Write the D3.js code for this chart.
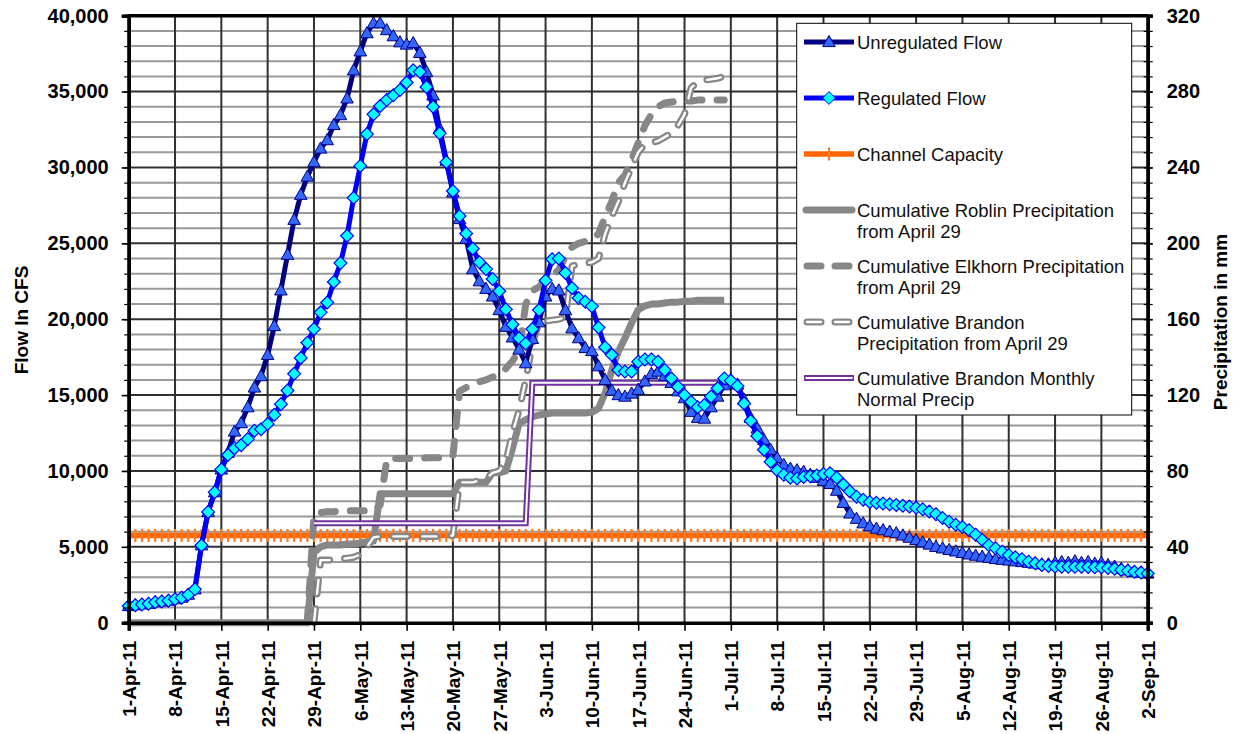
<!DOCTYPE html>
<html>
<head>
<meta charset="utf-8">
<script src="https://cdn.jsdelivr.net/npm/d3@7"></script>
<style>
  html, body { margin: 0; padding: 0; background: #ffffff; }
  svg { display: block; font-family: "Liberation Sans", Arial, sans-serif; }
</style>
</head>
<body>
<svg id="chart" width="1238" height="734"></svg>
<script>
// ---------------- data ----------------
const firstDay = "2011-04-01";
const lastDay  = "2011-09-02";

// daily flows (cfs), 1-Apr-11 .. 2-Sep-11
const unregulatedFlow = [
  1100,1150,1200,1250,1350,1400,1450,1550,1650,1850,
  2200,5100,7300,8600,10100,11200,12600,13150,14200,15500,
  16250,17650,19550,21900,24250,26550,28200,29400,30350,31250,
  31800,32800,33450,34550,36400,37650,38850,39500,39500,39050,
  38650,38250,38100,38200,37550,36300,34750,32550,30450,28350,
  26600,25300,23300,22500,22000,21500,20600,19500,18800,18000,
  17100,18700,19800,21500,22000,21900,20600,19400,18750,18100,
  17900,16900,16000,15300,15000,14900,15100,15350,15900,16400,
  16550,16250,15800,15250,14800,13900,13500,13450,14200,14900,
  15650,16000,15700,14700,13500,12800,12050,11400,10850,10400,
  10150,10050,9950,9750,9550,9350,9150,8700,7900,7200,
  6850,6550,6350,6200,6100,6000,5900,5750,5600,5450,
  5300,5150,5000,4900,4800,4700,4600,4500,4420,4350,
  4280,4200,4150,4100,4050,4000,3950,3900,3850,3850,
  3950,4000,3950,4050,3950,4000,3900,3950,3800,3700,
  3550,3450,3350,3300,3250
];
const regulatedFlow = [
  1100,1150,1200,1250,1350,1400,1450,1550,1650,1850,
  2200,5100,7300,8600,10100,11050,11500,11700,12100,12650,
  12750,13100,13700,14400,15300,16400,17450,18450,19350,20450,
  21100,22450,23700,25500,28000,30100,32200,33500,34050,34450,
  34750,35100,35600,36400,36300,35300,34000,32250,30350,28450,
  26800,25650,24650,23750,23300,22650,21850,20650,19650,18750,
  18400,19350,20600,22550,23950,24000,23050,22050,21400,21150,
  20850,19450,18150,17650,16650,16550,16550,17200,17350,17350,
  17200,16650,16100,15550,15000,14550,14200,14350,14900,15450,
  16100,15950,15600,14450,13300,12300,11400,10600,10050,9750,
  9550,9500,9600,9650,9700,9800,9850,9550,9100,8650,
  8300,8100,7950,7900,7850,7800,7750,7700,7650,7580,
  7470,7320,7150,6900,6650,6450,6300,6100,5800,5450,
  5100,4900,4680,4460,4310,4180,4020,3910,3800,3740,
  3700,3690,3690,3680,3680,3670,3660,3650,3600,3550,
  3480,3420,3350,3300,3250
];
const channelCapacity = 5750;   // cfs, constant over the period

// cumulative precipitation (mm)
const roblinStart = "2011-04-01";
const roblinPrecip = [
  0,0,0,0,0,0,0,0,0,0,
  0,0,0,0,0,0,0,0,0,0,
  0,0,0,0,0,0,0,0,
  37,40,41,41,41,41.5,41.5,42,42.5,43,
  68,68,68,68,68,68,68,68,68,68,
  68,68,74,74,74,74,74,79,79,80,
  92,105,107,108.5,109.5,110,110.5,110.5,110.5,110.5,
  110.5,110.5,111,113,121,133,143,150,158,165,
  167,168,168,168.5,169,169,169.5,169.5,170,170,
  170,170,170
];
const elkhornStart = "2011-04-28";
const elkhornPrecip = [
  0,57,58,58.5,58.5,59,59,59,59,59,
  59,62,86,86.5,86.5,86.5,86.5,86.5,87,87,
  87,87.5,88,122,124,126,127,128,129.5,131,
  134,138,143,168,175,177,181,183,186,193,
  198,200,201,202,205,214,222,232,236,244,
  253,262,268,272,274,274.5,275,275,275,275.5,
  275.5,275.5,275.5,275.5
];
const brandonStart = "2011-04-29";
const brandonPrecip = [
  0,33,33,33,33.5,34,34.5,36,40,45,
  45.5,45.5,45.5,45.5,45.5,45.5,45.5,45.5,45.5,45.5,
  45.5,46,74,74,74,75,76,79,80,85,
  100,112,128,147,158,159,159.5,160,161,188,
  189,189.5,190,192,205,214,222,232,240,248,
  252,253,254,256,258,262,268,282,285,286,
  286.5,287,288
];
const brandonNormalStart = "2011-04-29";
const brandonNormalPrecip = [
  52.4,52.4,52.4,52.4,52.4,52.4,52.4,52.4,52.4,52.4,
  52.4,52.4,52.4,52.4,52.4,52.4,52.4,52.4,52.4,52.4,
  52.4,52.4,52.4,52.4,52.4,52.4,52.4,52.4,52.4,52.4,
  52.4,52.4,52.4,
  126.5,126.5,126.5,126.5,126.5,126.5,126.5,126.5,126.5,126.5,
  126.5,126.5,126.5,126.5,126.5,126.5,126.5,126.5,126.5,126.5,
  126.5,126.5,126.5,126.5,126.5,126.5,126.5,126.5,126.5,126.5
];

const flowTicks   = [0, 5000, 10000, 15000, 20000, 25000, 30000, 35000, 40000];
const precipTicks = [0, 40, 80, 120, 160, 200, 240, 280, 320];
const flowMinorStep = 1000;

const legendEntries = [
  { key: "unreg",   lines: ["Unregulated Flow"] },
  { key: "reg",     lines: ["Regulated Flow"] },
  { key: "cap",     lines: ["Channel Capacity"] },
  { key: "roblin",  lines: ["Cumulative Roblin Precipitation", "from April 29"] },
  { key: "elkhorn", lines: ["Cumulative Elkhorn Precipitation", "from April 29"] },
  { key: "brandon", lines: ["Cumulative Brandon", "Precipitation from April 29"] },
  { key: "normal",  lines: ["Cumulative Brandon Monthly", "Normal Precip"] }
];

// ---------------- layout & styles ----------------
const plot = { left: 128.7, right: 1147.7, top: 15.7, bottom: 622.7 };
const C = {
  unregLine: "#000080", unregFill: "#3366FF",
  regLine: "#0000FF", regFill: "#00FFFF",
  cap: "#FF6600", capMark: "#FF7A22",
  precip: "#878787", normal: "#7030A0",
  gridMajor: "#303030", gridMinor: "#9A9A9A"
};
const precipWidth = 7;
const dash = "14 15";

const parseDay = d3.timeParse("%Y-%m-%d");
const days = d3.timeDay.range(parseDay(firstDay), d3.timeDay.offset(parseDay(lastDay), 1));
const toPoints = (startStr, values) => {
  const s = parseDay(startStr);
  return values.map((v, i) => ({ date: d3.timeDay.offset(s, i), value: v }));
};

const x = d3.scaleTime().domain([parseDay(firstDay), parseDay(lastDay)]).range([plot.left, plot.right]);
const yFlow = d3.scaleLinear().domain([0, 40000]).range([plot.bottom, plot.top]);
const yPrecip = d3.scaleLinear().domain([0, 320]).range([plot.bottom, plot.top]);

const weekTicks = d3.timeDay.range(x.domain()[0], d3.timeDay.offset(x.domain()[1], 1), 7);
const minorFlow = d3.range(0, 40000 + 1, flowMinorStep);

const svg = d3.select("#chart");

// ---------------- grid ----------------
const grid = svg.append("g");
grid.selectAll("line.hmin")
  .data(minorFlow.filter(v => v % 5000 !== 0))
  .join("line")
  .attr("x1", plot.left).attr("x2", plot.right)
  .attr("y1", d => yFlow(d)).attr("y2", d => yFlow(d))
  .attr("stroke", C.gridMinor).attr("stroke-width", 2);
grid.selectAll("line.hmaj")
  .data(flowTicks.filter(v => v > 0 && v < 40000))
  .join("line")
  .attr("x1", plot.left).attr("x2", plot.right)
  .attr("y1", d => yFlow(d)).attr("y2", d => yFlow(d))
  .attr("stroke", C.gridMajor).attr("stroke-width", 2);
grid.selectAll("line.v")
  .data(weekTicks.slice(1, -1))
  .join("line")
  .attr("x1", d => x(d)).attr("x2", d => x(d))
  .attr("y1", plot.top).attr("y2", plot.bottom)
  .attr("stroke", C.gridMajor).attr("stroke-width", 2);

// ---------------- series ----------------
const marks = svg.append("g");

// channel capacity
const capPts = days.map(d => ({ date: d, value: channelCapacity }));
marks.append("path")
  .datum(capPts)
  .attr("fill", "none").attr("stroke", C.cap).attr("stroke-width", 5.5)
  .attr("d", d3.line().x(d => x(d.date)).y(d => yFlow(d.value)));
marks.append("g").selectAll("line")
  .data(capPts).join("line")
  .attr("x1", d => x(d.date)).attr("x2", d => x(d.date))
  .attr("y1", d => yFlow(d.value) - 6.5).attr("y2", d => yFlow(d.value) + 6.5)
  .attr("stroke", C.capMark).attr("stroke-width", 2.2);

// precipitation lines
const precipLine = d3.line().x(d => x(d.date)).y(d => yPrecip(d.value));
const roblinPts = toPoints(roblinStart, roblinPrecip);
const elkhornPts = toPoints(elkhornStart, elkhornPrecip);
const brandonPts = toPoints(brandonStart, brandonPrecip);
const normalPts = toPoints(brandonNormalStart, brandonNormalPrecip);

marks.append("path").datum(roblinPts)
  .attr("fill", "none").attr("stroke", C.precip).attr("stroke-width", precipWidth)
  .attr("stroke-linejoin", "round").attr("d", precipLine);
marks.append("path").datum(elkhornPts)
  .attr("fill", "none").attr("stroke", C.precip).attr("stroke-width", precipWidth)
  .attr("stroke-dasharray", dash).attr("stroke-linecap", "round")
  .attr("stroke-linejoin", "round").attr("d", precipLine);
marks.append("path").datum(brandonPts)
  .attr("fill", "none").attr("stroke", C.precip).attr("stroke-width", precipWidth)
  .attr("stroke-dasharray", dash).attr("stroke-linecap", "round")
  .attr("stroke-linejoin", "round").attr("d", precipLine);
marks.append("path").datum(brandonPts)
  .attr("fill", "none").attr("stroke", "#ffffff").attr("stroke-width", 2.4)
  .attr("stroke-dasharray", dash).attr("stroke-linecap", "round")
  .attr("stroke-linejoin", "round").attr("d", precipLine);
marks.append("path").datum(normalPts)
  .attr("fill", "none").attr("stroke", C.normal).attr("stroke-width", 6)
  .attr("d", precipLine);
marks.append("path").datum(normalPts)
  .attr("fill", "none").attr("stroke", "#ffffff").attr("stroke-width", 2)
  .attr("d", precipLine);

// flows
const triPath = "M0,-6.6L6.3,4.6L-6.3,4.6Z";
const diaPath = "M0,-6.4L6.4,0L0,6.4L-6.4,0Z";
const flowLine = d3.line().x(d => x(d.date)).y(d => yFlow(d.value));
const unregPts = days.map((d, i) => ({ date: d, value: unregulatedFlow[i] }));
const regPts = days.map((d, i) => ({ date: d, value: regulatedFlow[i] }));

marks.append("path").datum(unregPts)
  .attr("fill", "none").attr("stroke", C.unregLine).attr("stroke-width", 5)
  .attr("stroke-linejoin", "round").attr("d", flowLine);
marks.append("g").selectAll("path")
  .data(unregPts).join("path")
  .attr("transform", d => `translate(${x(d.date)},${yFlow(d.value)})`)
  .attr("d", triPath)
  .attr("fill", C.unregFill).attr("stroke", C.unregLine).attr("stroke-width", 1);

marks.append("path").datum(regPts)
  .attr("fill", "none").attr("stroke", C.regLine).attr("stroke-width", 5)
  .attr("stroke-linejoin", "round").attr("d", flowLine);
marks.append("g").selectAll("path")
  .data(regPts).join("path")
  .attr("transform", d => `translate(${x(d.date)},${yFlow(d.value)})`)
  .attr("d", diaPath)
  .attr("fill", C.regFill).attr("stroke", C.regLine).attr("stroke-width", 1.2);

// ---------------- axes ----------------
const frame = svg.append("g");
frame.append("line").attr("x1", plot.left).attr("x2", plot.right)
  .attr("y1", plot.top).attr("y2", plot.top).attr("stroke", "#000").attr("stroke-width", 3.5);

// left axis
const leftMinor = svg.append("g").attr("transform", `translate(${plot.left},0)`)
  .call(d3.axisLeft(yFlow).tickValues(minorFlow).tickSize(4.5).tickFormat(""));
const leftAxis = svg.append("g").attr("transform", `translate(${plot.left},0)`)
  .call(d3.axisLeft(yFlow).tickValues(flowTicks).tickSize(7).tickPadding(13)
    .tickFormat(d3.format(",")));

// right axis
const rightMinor = svg.append("g").attr("transform", `translate(${plot.right},0)`)
  .call(d3.axisRight(yFlow).tickValues(minorFlow).tickSize(5).tickFormat(""));
rightMinor.selectAll(".tick line").attr("x1", -4);
const rightAxis = svg.append("g").attr("transform", `translate(${plot.right},0)`)
  .call(d3.axisRight(yPrecip).tickValues(precipTicks).tickSize(5).tickPadding(14));

// bottom axis
const bottomAxis = svg.append("g").attr("transform", `translate(0,${plot.bottom})`)
  .call(d3.axisBottom(x).tickValues(weekTicks).tickSize(8)
    .tickFormat(d3.timeFormat("%-d-%b-%y")));
bottomAxis.selectAll(".tick text")
  .attr("transform", "rotate(-90)")
  .attr("x", -18).attr("y", 0).attr("dy", "0.36em")
  .style("text-anchor", "end");

[leftMinor, leftAxis, rightMinor, rightAxis, bottomAxis].forEach(g => {
  g.select(".domain").attr("stroke", "#000").attr("stroke-width", 3.5);
  g.selectAll(".tick line").attr("stroke", "#000").attr("stroke-width", 1.6);
});
[leftMinor, rightMinor].forEach(g => g.selectAll(".tick line").attr("stroke-width", 1.2));
leftAxis.selectAll(".tick text").attr("font-size", 20).attr("font-weight", "bold").attr("fill", "#000")
  .attr("font-family", "'Liberation Sans', Arial, sans-serif");
rightAxis.selectAll(".tick text").attr("font-size", 20).attr("font-weight", "bold").attr("fill", "#000")
  .attr("font-family", "'Liberation Sans', Arial, sans-serif");
bottomAxis.selectAll(".tick text").attr("font-size", 19).attr("font-weight", "bold").attr("fill", "#000")
  .attr("font-family", "'Liberation Sans', Arial, sans-serif");

// axis titles
svg.append("text")
  .attr("transform", "translate(21,320) rotate(-90)")
  .attr("text-anchor", "middle").attr("dy", "0.36em")
  .attr("font-size", 19).attr("font-weight", "bold")
  .text("Flow In CFS");
svg.append("text")
  .attr("transform", "translate(1220,322) rotate(-90)")
  .attr("text-anchor", "middle").attr("dy", "0.36em")
  .attr("font-size", 19).attr("font-weight", "bold")
  .text("Precipitation in mm");

// ---------------- legend ----------------
const lg = svg.append("g");
lg.append("rect").attr("x", 796.7).attr("y", 23.3).attr("width", 335).attr("height", 391.7)
  .attr("fill", "#fff").attr("stroke", "#000").attr("stroke-width", 1);

const rowY = i => 42 + i * 56;
const sx0 = 804, sx1 = 854, smid = 829;
legendEntries.forEach((e, i) => {
  const g = lg.append("g").attr("transform", `translate(0,${rowY(i)})`);
  const seg = (stroke, w, extra) => {
    const l = g.append("line").attr("x1", sx0).attr("x2", sx1).attr("y1", 0).attr("y2", 0)
      .attr("stroke", stroke).attr("stroke-width", w);
    if (extra) extra(l);
    return l;
  };
  if (e.key === "unreg") {
    seg(C.unregLine, 5);
    g.append("path").attr("transform", `translate(${smid},0)`).attr("d", triPath)
      .attr("fill", C.unregFill).attr("stroke", C.unregLine);
  } else if (e.key === "reg") {
    seg(C.regLine, 5);
    g.append("path").attr("transform", `translate(${smid},0)`).attr("d", diaPath)
      .attr("fill", C.regFill).attr("stroke", C.regLine);
  } else if (e.key === "cap") {
    seg(C.cap, 5.5);
    g.append("line").attr("x1", smid).attr("x2", smid).attr("y1", -6.5).attr("y2", 6.5)
      .attr("stroke", C.capMark).attr("stroke-width", 2.2);
  } else if (e.key === "roblin") {
    seg(C.precip, precipWidth, l => l.attr("stroke-linecap", "round").attr("x1", sx0 + 2).attr("x2", sx1 - 2));
  } else if (e.key === "elkhorn") {
    seg(C.precip, precipWidth, l => l.attr("stroke-linecap", "round").attr("stroke-dasharray", "14 14")
      .attr("x1", sx0 + 3).attr("x2", sx1));
  } else if (e.key === "brandon") {
    seg(C.precip, precipWidth, l => l.attr("stroke-linecap", "round").attr("stroke-dasharray", "14 14")
      .attr("x1", sx0 + 3).attr("x2", sx1));
    seg("#fff", 2.4, l => l.attr("stroke-linecap", "round").attr("stroke-dasharray", "14 14")
      .attr("x1", sx0 + 3).attr("x2", sx1));
  } else if (e.key === "normal") {
    seg(C.normal, 6);
    seg("#fff", 2, l => l.attr("x1", sx0 + 1.5).attr("x2", sx1 - 1.5));
  }
  const t = g.append("text").attr("x", 857).attr("y", 0)
    .attr("font-size", 18.5).attr("fill", "#111");
  e.lines.forEach((ln, j) => {
    t.append("tspan").attr("x", 857).attr("dy", j === 0 ? "0.36em" : 21).text(ln);
  });
});
</script>
</body>
</html>
